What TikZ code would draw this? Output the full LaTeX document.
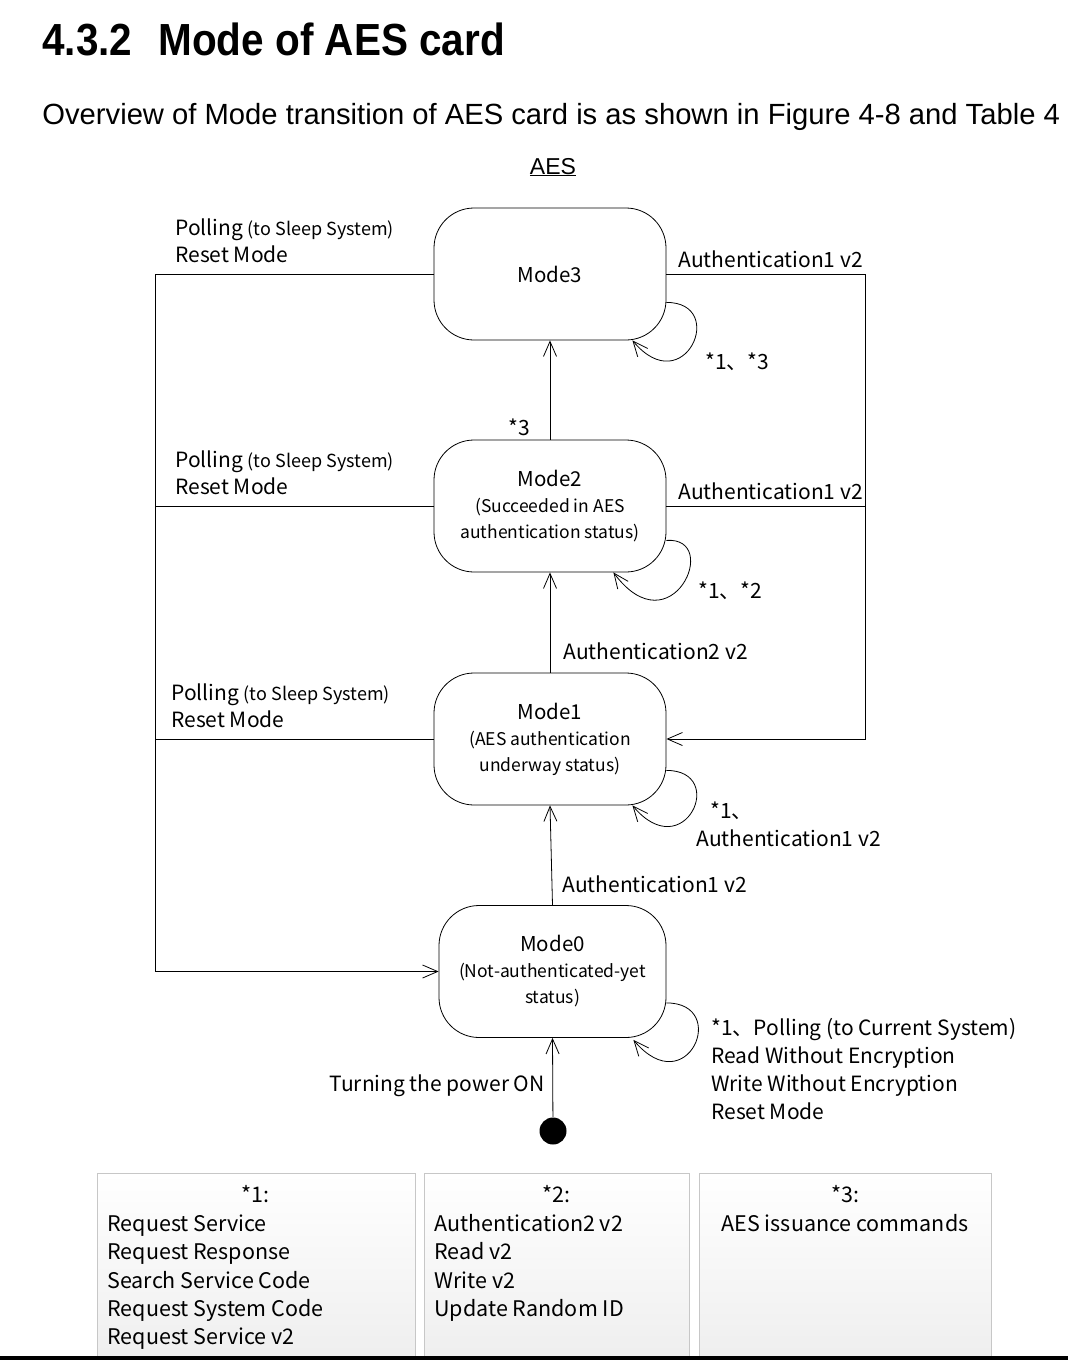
\documentclass[tikz,border=0pt]{standalone}
\usepackage{fontspec}
\setmainfont{Liberation Sans}
\newfontfamily\condfont[FakeStretch=0.9]{Liberation Sans}
\newfontfamily\jpfont{Noto Sans CJK JP}
\usetikzlibrary{arrows.meta,calc}

\tikzset{
  mode/.style={draw, rounded corners=40pt, minimum width=232pt, minimum height=132pt,
    inner sep=0pt, align=center, font=\jpfont\fontsize{20.5}{26}\selectfont},
  lbl/.style={anchor=base west, inner sep=0pt, font=\jpfont\fontsize{21}{26}\selectfont},
  notelbl/.style={lbl, font=\jpfont\fontsize{21.5}{26}\selectfont},
  note/.style={draw=black!22, top color=white, bottom color=black!7, minimum height=200pt,
    anchor=north west, inner sep=0pt},
  open/.style={-{Straight Barb[length=15pt,width=13pt]}},
}
\newcommand{\sm}[1]{{\fontsize{17.5}{26}\selectfont #1}}
\newcommand{\smp}[1]{{\fontsize{18}{26}\selectfont #1}}

\begin{document}
\begin{tikzpicture}[x=1pt,y=-1pt,line width=0.8pt]
  \useasboundingbox (0,0) rectangle (1068,1360);
  \fill[white] (0,0) rectangle (1068,1360);

  \node[anchor=base west, inner sep=0pt, font=\condfont\fontsize{45}{50}\selectfont\bfseries]
    (title) at (42,55) {4.3.2\hspace{26pt}Mode of AES card};
  \node[anchor=base west, inner sep=0pt, font=\fontsize{29.2}{32}\selectfont]
    (intro) at (42,124) {Overview of Mode transition of AES card is as shown in Figure 4-8 and Table 4};
  \node[anchor=base, inner sep=0pt, font=\fontsize{23}{26}\selectfont]
    (aes) at (553,174) {\underline{AES}};

  % modes
  \node[mode] (m3) at (550,274) {Mode3};
  \node[mode] (m2) at (550,506) {Mode2\\\sm{(Succeeded in AES}\\\sm{authentication status)}};
  \node[mode] (m1) at (550,739) {Mode1\\\sm{(AES authentication}\\\sm{underway status)}};
  \node[mode, minimum width=227pt] (m0) at (552.5,971.5) {Mode0\\\sm{(Not-authenticated-yet}\\\sm{status)}};
  \node[circle, fill, inner sep=0pt, minimum size=27pt] (init) at (553,1131) {};

  \coordinate (lc) at (155,0);
  \coordinate (rc) at (865,0);

  \begin{scope}
    \draw[open] (m3.west) -| (lc |- m0.west) -- (m0.west);
    \draw (m2.west) -- (lc |- m2.west);
    \draw (m1.west) -- (lc |- m1.west);
    \draw[open] (m3.east) -| (rc |- m1.east) -- (m1.east);
    \draw (m2.east) -- (rc |- m2.east);
    \draw[open] (m2.north) -- (m3.south);
    \draw[open] (m1.north) -- (m2.south);
    \draw[open] (m0.north) -- (m1.south);
    \draw[open] (init) -- (m0.south);
    % self loops
    \draw[open] ($(m3.south east)+(0,-38)$) .. controls +(62,0) and +(52,62) .. ($(m3.south east)+(-34,0)$);
    \draw[open] ($(m2.south east)+(0,-32)$) .. controls +(56,-4) and +(58,78) .. ($(m2.south east)+(-53,0)$);
    \draw[open] ($(m1.south east)+(0,-35)$) .. controls +(62,0) and +(52,62) .. ($(m1.south east)+(-34,0)$);
    \draw[open] ($(m0.south east)+(0,-35)$) .. controls +(64,0) and +(54,64) .. ($(m0.south east)+(-33,2)$);
  \end{scope}

  % labels
  \node[lbl] (p3a) at (175,235) {Polling \smp{(to Sleep System)}};
  \node[lbl] (p3b) at (175,262) {Reset Mode};
  \node[lbl] (p2a) at (175,467) {Polling \smp{(to Sleep System)}};
  \node[lbl] (p2b) at (175,494) {Reset Mode};
  \node[lbl] (p1a) at (171,700) {Polling \smp{(to Sleep System)}};
  \node[lbl] (p1b) at (171,727) {Reset Mode};
  \node[lbl] (a3) at (678,267) {Authentication1 v2};
  \node[lbl] (a2) at (678,499) {Authentication1 v2};
  \node[lbl] (s3) at (508,435) {*3};
  \node[lbl] (a21) at (563,659) {Authentication2 v2};
  \node[lbl] (a10) at (562,892) {Authentication1 v2};
  \node[lbl, anchor=base east] (pow) at (545,1091) {Turning the power ON};
  \node[lbl] (l3) at (705,369) {*1、*3};
  \node[lbl] (l2) at (698,598) {*1、*2};
  \node[lbl] (l1a) at (710,818) {*1、};
  \node[lbl] (l1b) at (696,846) {Authentication1 v2};
  \node[lbl] (l0a) at (711,1035) {*1、Polling (to Current System)};
  \node[lbl] (l0b) at (711,1063) {Read Without Encryption};
  \node[lbl] (l0c) at (711,1091) {Write Without Encryption};
  \node[lbl] (l0d) at (711,1119) {Reset Mode};

  % notes
  \node[note, minimum width=318pt] (n1) at (97,1173) {};
  \node[note, minimum width=265pt] (n2) at (424,1173) {};
  \node[note, minimum width=292pt] (n3) at (699,1173) {};
  \node[notelbl, anchor=base] (n1h) at (255,1202) {*1:};
  \node[notelbl] (n1a) at (107,1231) {Request Service};
  \node[notelbl] (n1b) at (107,1259) {Request Response};
  \node[notelbl] (n1c) at (107,1288) {Search Service Code};
  \node[notelbl] (n1d) at (107,1316) {Request System Code};
  \node[notelbl] (n1e) at (107,1344) {Request Service v2};
  \node[notelbl, anchor=base] (n2h) at (556,1202) {*2:};
  \node[notelbl] (n2a) at (434,1231) {Authentication2 v2};
  \node[notelbl] (n2b) at (434,1259) {Read v2};
  \node[notelbl] (n2c) at (434,1288) {Write v2};
  \node[notelbl] (n2d) at (434,1316) {Update Random ID};
  \node[notelbl, anchor=base] (n3h) at (845,1202) {*3:};
  \node[notelbl, anchor=base] (n3a) at (845,1231) {AES issuance commands};
  \fill (0,1356) rectangle (1068,1360);
\end{tikzpicture}
\end{document}
